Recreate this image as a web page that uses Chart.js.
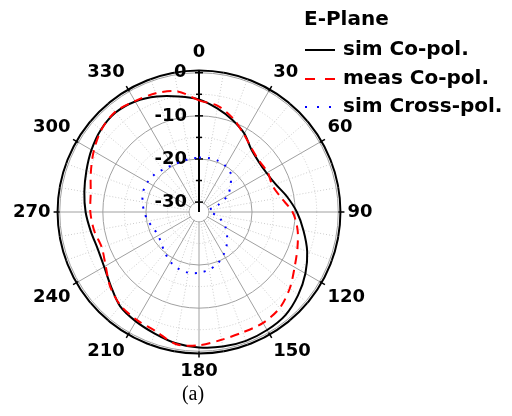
<!DOCTYPE html>
<html>
<head>
<meta charset="utf-8">
<script src="https://cdn.jsdelivr.net/npm/chart.js@4.4.1/dist/chart.umd.min.js"></script>
<style>
  html, body { margin: 0; padding: 0; background: #fff; }
  #wrap { position: relative; width: 512px; height: 416px; overflow: hidden; }
  #chartBox { position: absolute; left: 7px; top: 0; width: 372px; height: 416px; }
  .lg { position: absolute; font: bold 20px "DejaVu Sans", sans-serif; line-height: 24px; color: #000; white-space: nowrap; }
  .lg svg { position: absolute; left: 0; top: 9px; }
  .lg span { position: absolute; left: 39px; top: 0; }
</style>
</head>
<body>
<div id="wrap">
  <div id="chartBox"><canvas id="polarChart"></canvas></div>
  <div class="lg" style="left:304px; top:6px;">E-Plane</div>
  <div class="lg" style="left:304px; top:36px;">
    <svg width="32" height="10"><line x1="1" y1="5" x2="31" y2="5" stroke="#000" stroke-width="2"/></svg>
    <span>sim Co-pol.</span>
  </div>
  <div class="lg" style="left:304px; top:65px;">
    <svg width="32" height="10"><line x1="1" y1="5" x2="31" y2="5" stroke="#ff0000" stroke-width="2" stroke-dasharray="10 10"/></svg>
    <span>meas Co-pol.</span>
  </div>
  <div class="lg" style="left:304px; top:93px;">
    <svg width="32" height="10"><line x1="1" y1="5" x2="31" y2="5" stroke="#0000ff" stroke-width="2" stroke-dasharray="2 10"/></svg>
    <span>sim Cross-pol.</span>
  </div>
</div>
<script>
// angle (deg) of each sample, clockwise from top
const ANGLES = [0, 10, 20, 30, 40, 50, 60, 70, 80, 90, 100, 110, 120, 130, 140, 150, 160, 170,
  180, 190, 200, 210, 220, 230, 240, 250, 260, 270, 280, 290, 300, 310, 320, 330, 340, 350];

// normalised gain, dB
const SIM_CO = [-6.2, -7.9, -9.6, -11.3, -13.4, -14.2, -14.2, -13.4, -11.6, -9.6, -7.7, -5.6,
  -3.8, -2.3, -1.1, -0.7, -0.5, -0.6, -0.9, -1.4, -2.3, -3.0, -3.8, -5.6,
  -6.9, -7.3, -6.8, -6.0, -5.3, -4.5, -3.5, -2.6, -2.2, -2.7, -3.8, -5.1];

const MEAS_CO = [-6.4, -7.3, -9.2, -11.5, -13.2, -14.0, -13.9, -14.2, -13.0, -10.6, -9.1, -8.0,
  -6.7, -4.8, -3.2, -2.6, -2.6, -2.2, -1.4, -1.2, -2.9, -3.4, -4.0, -5.4,
  -7.3, -8.3, -7.6, -7.1, -6.8, -5.6, -4.1, -2.7, -2.0, -2.6, -3.0, -3.9];

const SIM_CROSS = [-19.7, -19.6, -19.6, -20.0, -20.8, -22.8, -24.6, -27.6, -30.0, -29.5, -28.5, -26.8,
  -25.2, -23.8, -22.3, -20.9, -19.6, -18.7, -18.2, -18.0, -18.3, -19.0, -20.0, -20.9,
  -21.4, -21.1, -20.3, -19.6, -19.0, -18.5, -18.5, -18.8, -19.4, -19.8, -19.9, -19.8];

// radial axis
const R_MIN = -32.3;
const R_MAX = 0.5;
const RADIAL_TICKS = [-30, -25, -20, -15, -10, -5, 0, 0.5];
const LABELED_TICKS = [-30, -20, -10, 0];

const MAJOR_GRID = '#a0a0a0';
const MINOR_GRID = '#cccccc';

// white hole in the middle, axis line through it, axis and rim ticks
const centerHole = {
  id: 'centerHole',
  beforeDatasetsDraw(chart) {
    const s = chart.scales.r;
    const ctx = chart.ctx;
    const rHole = s.getDistanceFromCenterForValue(-30);
    const rOuter = s.getDistanceFromCenterForValue(R_MAX);
    ctx.save();
    ctx.fillStyle = '#fff';
    ctx.beginPath();
    ctx.arc(s.xCenter, s.yCenter, rHole - 0.6, 0, Math.PI * 2);
    ctx.fill();
    ctx.strokeStyle = '#000';
    ctx.lineWidth = 2;
    ctx.beginPath();
    ctx.moveTo(s.xCenter, s.yCenter);
    ctx.lineTo(s.xCenter, s.yCenter - rHole);
    ctx.stroke();

    ctx.lineWidth = 1.5;
    RADIAL_TICKS.forEach((v) => {
      if (v > 0) return;
      const y = s.yCenter - s.getDistanceFromCenterForValue(v);
      const half = LABELED_TICKS.includes(v) ? 4 : 3;
      ctx.beginPath();
      ctx.moveTo(s.xCenter - half, y);
      ctx.lineTo(s.xCenter + half, y);
      ctx.stroke();
    });

    ANGLES.forEach((a, i) => {
      if (a % 30 !== 0 || a === 0) return;
      const p1 = s.getPointPosition(i, rOuter - 2);
      const p2 = s.getPointPosition(i, rOuter + 4);
      ctx.beginPath();
      ctx.moveTo(p1.x, p1.y);
      ctx.lineTo(p2.x, p2.y);
      ctx.stroke();
    });
    ctx.restore();
  }
};

function tickLabel(value) {
  if (!LABELED_TICKS.includes(value)) return '';
  // trailing blanks push the centred label left of the axis line
  return String(value) + ' '.repeat(value === 0 ? 6 : 9);
}

new Chart(document.getElementById('polarChart'), {
  type: 'radar',
  data: {
    labels: ANGLES.map(String),
    datasets: [
      {
        label: 'meas Co-pol.',
        data: MEAS_CO,
        borderColor: '#ff0000',
        borderWidth: 2,
        borderDash: [9, 6],
        fill: false,
        pointRadius: 0,
        tension: 0.3,
      },
      {
        label: 'sim Co-pol.',
        data: SIM_CO,
        borderColor: '#000000',
        borderWidth: 2,
        fill: false,
        pointRadius: 0,
        tension: 0.3,
      },
      {
        label: 'sim Cross-pol.',
        data: SIM_CROSS,
        borderColor: '#0000ff',
        borderWidth: 2,
        borderDash: [2, 7],
        fill: false,
        pointRadius: 0,
        tension: 0.3,
      },
    ],
  },
  options: {
    responsive: true,
    maintainAspectRatio: false,
    animation: false,
    layout: { padding: { top: 28, bottom: 0, left: 0, right: 0 } },
    plugins: {
      legend: { display: false },
      tooltip: { enabled: false },
      title: {
        display: true,
        text: '(a)',
        position: 'bottom',
        color: '#000',
        font: { family: '"Liberation Serif", "Times New Roman", serif', size: 20, weight: 'normal' },
        padding: { top: -14, bottom: 9 },
      },
    },
    scales: {
      r: {
        min: R_MIN,
        max: R_MAX,
        afterBuildTicks(scale) {
          scale.ticks = RADIAL_TICKS.map((v) => ({ value: v }));
        },
        ticks: {
          showLabelBackdrop: false,
          color: '#000',
          font: { family: '"DejaVu Sans", sans-serif', size: 18, weight: 'bold' },
          callback: (v) => tickLabel(v),
        },
        grid: {
          circular: true,
          color: (ctx) => (ctx.tick.value === R_MAX ? '#000' : ctx.tick.value % 10 === 0 ? MAJOR_GRID : MINOR_GRID),
          lineWidth: (ctx) => (ctx.tick.value === R_MAX ? 2 : 1),
        },
        border: {
          dash: (ctx) => (ctx.tick && ctx.tick.value % 10 !== 0 && ctx.tick.value !== R_MAX ? [1, 2] : []),
        },
        angleLines: {
          color: (ctx) => (ctx.index === 0 ? '#000' : ANGLES[ctx.index] % 30 === 0 ? MAJOR_GRID : MINOR_GRID),
          lineWidth: (ctx) => (ctx.index === 0 ? 2 : 1),
          borderDash: (ctx) => (ANGLES[ctx.index] % 30 === 0 ? [] : [1, 2]),
        },
        pointLabels: {
          color: '#000',
          padding: -4,
          font: { family: '"DejaVu Sans", sans-serif', size: 18, weight: 'bold' },
          callback: (label, i) => (ANGLES[i] % 30 === 0 ? label : ''),
        },
      },
    },
  },
  plugins: [centerHole],
});
</script>
</body>
</html>
